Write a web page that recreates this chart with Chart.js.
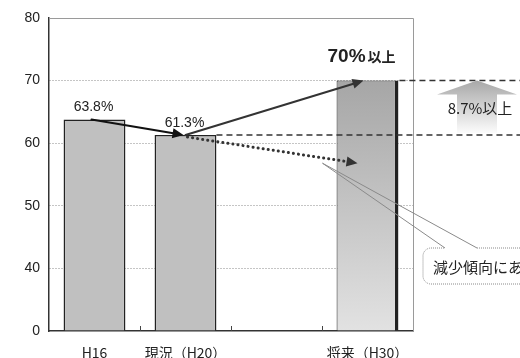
<!DOCTYPE html>
<html>
<head>
<meta charset="utf-8">
<script src="https://cdn.jsdelivr.net/npm/chart.js@4.4.1/dist/chart.umd.min.js"></script>
<style>
  html, body { margin: 0; padding: 0; background: #fff; }
  #wrap { width: 520px; height: 358px; }
</style>
</head>
<body>
<div id="wrap"><canvas id="c"></canvas></div>
<script>
// data
const categories = ['H16', '現況（H20）', '', '将来（H30）'];
const rates = [63.8, 61.3, null, 70];
const rateLabels = ['63.8%', '61.3%', '', ''];
const yTickValues = [0, 40, 50, 60, 70, 80]; // axis is broken between 0 and 40
const declineEnd = 56.8; // end of the dotted "decline" arrow at H30
const targetText = ['70%', '以上'];
const gapText = '8.7%以上';
const calloutText = '減少傾向にある';

const LATIN = '"Liberation Sans", "Noto Sans CJK JP", sans-serif';
const JP = '"Noto Sans CJK JP", sans-serif';

// broken axis: 0..40 squeezed into one step, 40..80 linear
const toPos = v => (v >= 40 ? v - 30 : v / 4);

const annotate = {
  id: 'annotate',
  beforeDatasetsDraw(chart) {
    const { ctx, chartArea: a, scales: { x } } = chart;
    ctx.save();
    // top + right frame in gray
    ctx.strokeStyle = '#9a9a9a';
    ctx.lineWidth = 1;
    ctx.beginPath();
    ctx.moveTo(a.left, a.top + 0.5);
    ctx.lineTo(a.right + 0.5, a.top + 0.5);
    ctx.lineTo(a.right + 0.5, a.bottom);
    ctx.stroke();
    // small inner ticks between categories
    ctx.strokeStyle = '#444';
    for (let i = 0; i < categories.length - 1; i++) {
      const bx = Math.round((x.getPixelForValue(i) + x.getPixelForValue(i + 1)) / 2) + 0.5;
      ctx.beginPath();
      ctx.moveTo(bx, a.bottom);
      ctx.lineTo(bx, a.bottom - 5);
      ctx.stroke();
    }
    ctx.restore();
  },
  afterDatasetsDraw(chart) {
    const { ctx, chartArea: a, scales: { x, y } } = chart;
    const meta = chart.getDatasetMeta(0);
    const px = i => x.getPixelForValue(i);
    const py = v => y.getPixelForValue(toPos(v));
    const W = chart.width;

    const arrow = (x1, y1, x2, y2, color, dash) => {
      const ang = Math.atan2(y2 - y1, x2 - x1);
      const hl = 11, hw = 5;
      const ex = x2 - Math.cos(ang) * hl * 0.8, ey = y2 - Math.sin(ang) * hl * 0.8;
      ctx.save();
      ctx.strokeStyle = color;
      ctx.fillStyle = color;
      ctx.lineWidth = dash ? 3 : 2;
      ctx.lineCap = 'round';
      ctx.setLineDash(dash || []);
      ctx.beginPath();
      ctx.moveTo(x1, y1);
      ctx.lineTo(ex, ey);
      ctx.stroke();
      ctx.setLineDash([]);
      ctx.beginPath();
      ctx.moveTo(x2, y2);
      ctx.lineTo(x2 - Math.cos(ang) * hl - Math.sin(ang) * hw, y2 - Math.sin(ang) * hl + Math.cos(ang) * hw);
      ctx.lineTo(x2 - Math.cos(ang) * hl + Math.sin(ang) * hw, y2 - Math.sin(ang) * hl - Math.cos(ang) * hw);
      ctx.closePath();
      ctx.fill();
      ctx.restore();
    };

    ctx.save();
    // dashed reference lines at current and target level
    ctx.strokeStyle = '#333';
    ctx.lineWidth = 1.5;
    ctx.setLineDash([6, 4]);
    ctx.beginPath();
    ctx.moveTo(meta.data[1].x + meta.data[1].width / 2, py(rates[1]));
    ctx.lineTo(W, py(rates[1]));
    ctx.moveTo(meta.data[3].x + meta.data[3].width / 2 + 1, py(rates[3]));
    ctx.lineTo(W, py(rates[3]));
    ctx.stroke();
    ctx.setLineDash([]);

    // bar value labels
    ctx.fillStyle = '#222';
    ctx.font = '14px ' + LATIN;
    ctx.textAlign = 'center';
    ctx.textBaseline = 'middle';
    rateLabels.forEach((t, i) => {
      if (t) ctx.fillText(t, px(i) - 1, py(rates[i]) - 12);
    });

    // target label "70%以上"
    ctx.textAlign = 'left';
    ctx.textBaseline = 'alphabetic';
    ctx.font = 'bold 19px ' + LATIN;
    const tx = px(3) - 40, ty = py(rates[3]) - 19;
    ctx.fillText(targetText[0], tx, ty);
    const tw = ctx.measureText(targetText[0]).width;
    ctx.font = 'bold 14px ' + JP;
    ctx.fillText(targetText[1], tx + tw + 2, ty);
    ctx.restore();

    // trend arrows
    arrow(px(0) - 3, py(rates[0]), px(1) - 2, py(rates[1]), '#111');
    arrow(px(1), py(rates[1]), px(3) - 4, py(rates[3]), '#333');
    arrow(px(1) + 2, py(rates[1]) + 2, px(3) - 10, py(declineEnd), '#333', [0.1, 5]);

    // gray block arrow showing the gap
    ctx.save();
    const cx = a.right + 64, top = py(rates[3]), bot = py(rates[1]);
    const g = ctx.createLinearGradient(0, top, 0, bot);
    g.addColorStop(0, '#a8a8a8');
    g.addColorStop(1, '#ffffff');
    ctx.fillStyle = g;
    ctx.beginPath();
    ctx.moveTo(cx, top);
    ctx.lineTo(cx + 40, top + 14);
    ctx.lineTo(cx + 20, top + 14);
    ctx.lineTo(cx + 20, bot - 2);
    ctx.lineTo(cx - 20, bot - 2);
    ctx.lineTo(cx - 20, top + 14);
    ctx.lineTo(cx - 40, top + 14);
    ctx.closePath();
    ctx.fill();
    ctx.fillStyle = '#222';
    ctx.font = '15px ' + JP;
    ctx.textAlign = 'center';
    ctx.textBaseline = 'middle';
    ctx.fillText(gapText, cx + 3, (top + bot) / 2);
    ctx.restore();

    // callout bubble
    ctx.save();
    const bx = a.right + 10, byTop = 248, bh = 36, r = 8;
    const apexX = px(3) - 45, apexY = py(declineEnd);
    ctx.strokeStyle = '#8a8a8a';
    ctx.lineWidth = 1;
    ctx.beginPath();
    ctx.moveTo(bx + 22, byTop);
    ctx.lineTo(apexX, apexY);
    ctx.lineTo(bx + 54, byTop);
    ctx.stroke();
    ctx.setLineDash([1, 1]);
    ctx.beginPath();
    ctx.moveTo(bx + 54, byTop);
    ctx.lineTo(W + 20, byTop);
    ctx.moveTo(W + 20, byTop + bh);
    ctx.lineTo(bx + r, byTop + bh);
    ctx.arcTo(bx, byTop + bh, bx, byTop + bh - r, r);
    ctx.lineTo(bx, byTop + r);
    ctx.arcTo(bx, byTop, bx + r, byTop, r);
    ctx.lineTo(bx + 22, byTop);
    ctx.stroke();
    ctx.setLineDash([]);
    ctx.fillStyle = '#222';
    ctx.font = '15px ' + JP;
    ctx.textBaseline = 'middle';
    ctx.fillText(calloutText, bx + 10, byTop + bh / 2 + 1);
    ctx.restore();
  }
};

const ctx = document.getElementById('c').getContext('2d');
const futureFill = (context) => {
  const { chart } = context;
  const a = chart.chartArea;
  if (!a) return '#c0c0c0';
  const g = chart.ctx.createLinearGradient(0, chart.scales.y.getPixelForValue(toPos(rates[3])), 0, a.bottom);
  g.addColorStop(0, '#a6a6a6');
  g.addColorStop(1, '#e2e2e2');
  return g;
};

new Chart(ctx, {
  type: 'bar',
  data: {
    labels: categories,
    datasets: [{
      data: rates.map(v => (v == null ? null : toPos(v))),
      backgroundColor: c => (c.dataIndex === 3 ? futureFill(c) : '#c0c0c0'),
      borderColor: '#222',
      borderWidth: c => (c.dataIndex === 3 ? { left: 1, top: 1, right: 3.5, bottom: 0 } : { left: 1.5, top: 1.5, right: 1.5, bottom: 0 }),
      borderSkipped: false,
      categoryPercentage: 1,
      barPercentage: 0.68
    }]
  },
  options: {
    responsive: true,
    maintainAspectRatio: false,
    animation: false,
    layout: { padding: { top: 18, right: 107, left: 0, bottom: 0 } },
    plugins: { legend: { display: false }, tooltip: { enabled: false } },
    scales: {
      x: {
        grid: { display: false },
        border: { color: '#333', width: 1.5 },
        ticks: { color: '#222', font: { size: 14, family: JP }, padding: 5, maxRotation: 0, autoSkip: false },
        afterFit: s => { s.height = 27; }
      },
      y: {
        min: 0,
        max: 50,
        ticks: {
          stepSize: 10,
          padding: 9,
          color: '#222',
          font: { size: 14, family: LATIN },
          callback: v => {
            const t = yTickValues.find(k => toPos(k) === v);
            return t === undefined ? '' : String(t);
          }
        },
        grid: {
          drawTicks: false,
          color: c => (c.index === 0 || c.tick.value === 50 ? 'rgba(0,0,0,0)' : '#8a8a8a'),
          lineWidth: 1
        },
        border: { color: '#333', width: 1.5, dash: [1, 2] },
        afterFit: s => { s.width = 49; }
      }
    }
  },
  plugins: [annotate]
});
</script>
</body>
</html>
